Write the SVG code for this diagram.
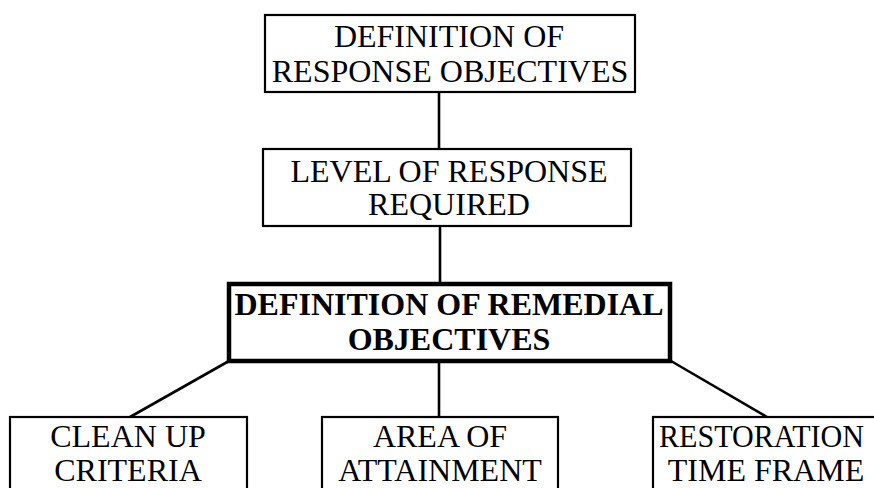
<svg xmlns="http://www.w3.org/2000/svg" width="874" height="488" viewBox="0 0 874 488">
<style>
.box{fill:#fff;stroke:#000;stroke-width:2.2}
.thick{fill:#fff;stroke:#000;stroke-width:4.5}
.t{font-family:"Liberation Serif","Times New Roman",serif;font-size:32px;fill:#000;text-anchor:middle}
.b{font-weight:bold}
.c{stroke:#000;stroke-width:2.6;fill:none}
</style>
<rect width="874" height="488" fill="#fff"/>
<g id="connectors">
<line class="c" x1="439" y1="92" x2="439" y2="149"/>
<line class="c" x1="440" y1="226" x2="440" y2="284"/>
<line class="c" x1="229" y1="361" x2="130" y2="417"/>
<line class="c" x1="439" y1="361" x2="439" y2="417"/>
<line class="c" x1="671" y1="361" x2="767" y2="417"/>
</g>
<g id="n1">
<rect class="box" x="265" y="15" width="370" height="77"/>
<text class="t" x="449" y="47">DEFINITION OF</text>
<text class="t" x="450" y="82">RESPONSE OBJECTIVES</text>
</g>
<g id="n2">
<rect class="box" x="263" y="149" width="368" height="77"/>
<text class="t" x="449" y="182">LEVEL OF RESPONSE</text>
<text class="t" x="449" y="215">REQUIRED</text>
</g>
<g id="n3">
<rect class="thick" x="229" y="284" width="441" height="77"/>
<text class="t b" x="449" y="315">DEFINITION OF REMEDIAL</text>
<text class="t b" x="449" y="350">OBJECTIVES</text>
</g>
<g id="n4">
<rect class="box" x="10" y="417" width="237" height="90"/>
<text class="t" x="128" y="447">CLEAN UP</text>
<text class="t" x="128" y="481">CRITERIA</text>
</g>
<g id="n5">
<rect class="box" x="322" y="417" width="236" height="90"/>
<text class="t" x="440" y="447">AREA OF</text>
<text class="t" x="440" y="481">ATTAINMENT</text>
</g>
<g id="n6">
<rect class="box" x="653" y="417" width="240" height="90"/>
<text class="t" x="659" y="447" style="text-anchor:start" textLength="205" lengthAdjust="spacingAndGlyphs">RESTORATION</text>
<text class="t" x="766" y="481">TIME FRAME</text>
</g>
</svg>
